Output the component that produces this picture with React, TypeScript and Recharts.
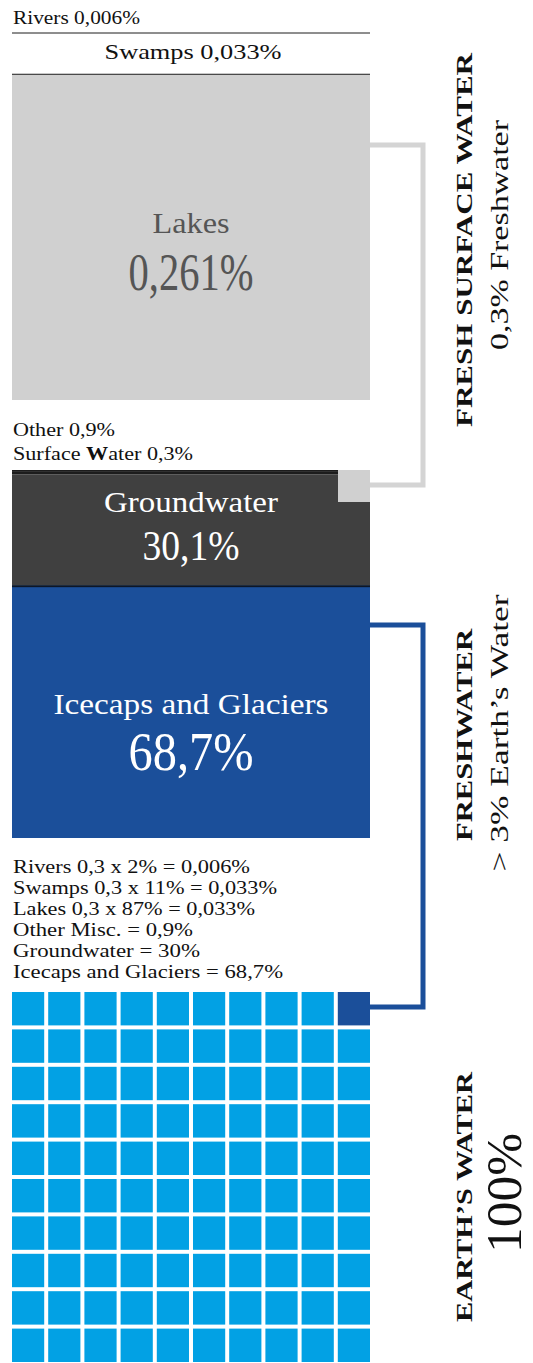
import React from 'react';
import { BarChart, Bar, XAxis, YAxis, ScatterChart, Scatter } from 'recharts';

// surface water, % of freshwater (stacked bottom -> top)
const surfaceNames = ['Lakes', 'Swamps', 'Rivers'];
const surfaceValues = [0.261, 0.033, 0.006];

// freshwater, % (stacked bottom -> top)
const freshNames = ['Icecaps and Glaciers', 'Groundwater', 'Other', 'Surface Water'];
const freshValues = [68.7, 30.1, 0.9, 0.3];

// earth's water waffle, units out of 100
const waffleNames = ["Earth's water", 'Freshwater'];
const waffleUnits = [99, 1];

const breakdownLines = [
  'Rivers 0,3 x 2% = 0,006%',
  'Swamps 0,3 x 11% = 0,033%',
  'Lakes 0,3 x 87% = 0,033%',
  'Other Misc. = 0,9%',
  'Groundwater = 30%',
  'Icecaps and Glaciers = 68,7%',
];

const sideTitles = ['FRESH SURFACE WATER', 'FRESHWATER', 'EARTH\u2019S WATER'];
const sideSubtitles = ['0,3% Freshwater', '> 3% Earth\u2019s Water', '100%'];

const FONT = '"Liberation Serif", "Times New Roman", serif';
const LINE = '#1c1c1c';
const LAKE_GRAY = '#d0d0d0';
const CONNECT_GRAY = '#d4d4d4';
const GROUND = '#404040';
const ICE = '#1b4f9a';
const WAFFLE_BLUE = '#02a1e4';

const fmt = (v: number) => String(v).replace('.', ',') + '%';

const surfaceRow: Record<string, any> = { name: 'Surface water' };
surfaceNames.forEach((n, i) => (surfaceRow[n] = surfaceValues[i]));
const freshRow: Record<string, any> = { name: 'Freshwater' };
freshNames.forEach((n, i) => (freshRow[n] = freshValues[i]));

// expand waffle units into cells, filled bottom-left to top-right
const waffleCells: { x: number; y: number }[][] = waffleNames.map(() => []);
let idx = 0;
waffleUnits.forEach((u, g) => {
  for (let k = 0; k < u; k++, idx++) {
    waffleCells[g].push({ x: (idx % 10) + 0.5, y: Math.floor(idx / 10) + 0.5 });
  }
});
const waffleColors = [WAFFLE_BLUE, ICE];

type TxtProps = {
  x: number;
  y: number;
  size: number;
  w?: number;
  anchor?: 'start' | 'middle' | 'end';
  fill?: string;
  bold?: boolean;
  children: React.ReactNode;
};
const Txt = ({ x, y, size, w, anchor = 'start', fill = '#111', bold, children }: TxtProps) => (
  <text
    x={x}
    y={y}
    fontSize={size}
    fontFamily={FONT}
    fontWeight={bold ? 700 : 400}
    fill={fill}
    textAnchor={anchor}
    textLength={w}
    lengthAdjust={w ? 'spacingAndGlyphs' : undefined}
  >
    {children}
  </text>
);

const surfaceShape = (name: string) => (p: any) => {
  const { x, y, width, height } = p;
  const cx = x + width / 2;
  const v = surfaceRow[name];
  if (name === 'Lakes') {
    const cy = y + height / 2;
    return (
      <g>
        <rect x={x} y={y} width={width} height={height} fill={LAKE_GRAY} />
        <rect x={x} y={y - 1} width={width} height={2} fill={LINE} />
        <Txt x={cx} y={cy - 4} size={29} w={77} anchor="middle" fill="#555">{name}</Txt>
        <Txt x={cx} y={cy + 53} size={53} w={125} anchor="middle" fill="#555">{fmt(v)}</Txt>
      </g>
    );
  }
  if (name === 'Swamps') {
    return (
      <g>
        <rect x={x} y={y} width={width} height={height} fill="#fff" />
        <rect x={x} y={y - 1} width={width} height={2} fill={LINE} />
        <Txt x={cx + 2} y={y + 26} size={22} w={177} anchor="middle">{name} {fmt(v)}</Txt>
      </g>
    );
  }
  return (
    <g>
      <rect x={x} y={y} width={width} height={height} fill="#fff" />
      <Txt x={x + 1} y={y - 1} size={18} w={127}>{name} {fmt(v)}</Txt>
    </g>
  );
};

const freshShape = (name: string) => (p: any) => {
  const { x, y, width, height } = p;
  const cx = x + width / 2;
  const cy = y + height / 2;
  const v = freshRow[name];
  if (name === 'Icecaps and Glaciers') {
    return (
      <g>
        <rect x={x} y={y} width={width} height={height} fill={ICE} />
        <rect x={x} y={y} width={width} height={2} fill="#0d1626" />
        <Txt x={cx} y={cy + 2} size={30} w={275} anchor="middle" fill="#fff">{name}</Txt>
        <Txt x={cx} y={cy + 58} size={55} w={125} anchor="middle" fill="#fff">{fmt(v)}</Txt>
      </g>
    );
  }
  if (name === 'Groundwater') {
    return (
      <g>
        <rect x={x} y={y} width={width} height={height} fill={GROUND} />
        <Txt x={cx} y={cy - 18} size={29} w={174} anchor="middle" fill="#fff">{name}</Txt>
        <Txt x={cx} y={cy + 30} size={43} w={97} anchor="middle" fill="#fff">{fmt(v)}</Txt>
      </g>
    );
  }
  if (name === 'Other') {
    return (
      <g>
        <rect x={x} y={y} width={width} height={height} fill={LINE} />
        <Txt x={x + 1} y={y - 35} size={18} w={102}>{name} {fmt(v)}</Txt>
      </g>
    );
  }
  // surface water: thin top band plus the grey square carried over from above
  return (
    <g>
      <rect x={x} y={y} width={width} height={height} fill={LINE} />
      <rect x={x + width - 32} y={y} width={32} height={32} fill={LAKE_GRAY} />
      <text x={x + 1} y={y - 10} fontSize={18} fontFamily={FONT} fill="#111" textLength={180} lengthAdjust="spacingAndGlyphs">
        Surface <tspan fontWeight={700}>W</tspan>ater {fmt(v)}
      </text>
    </g>
  );
};

const WAFFLE_W = 362;
const WAFFLE_H = 374;
const waffleShape = (color: string) => (p: any) => {
  const w = WAFFLE_W / 10 - 4;
  const h = WAFFLE_H / 10 - 4;
  return <rect x={p.cx - w / 2} y={p.cy - h / 2} width={w} height={h} fill={color} />;
};

const titleX = [472, 472, 472];
const titleY = [240, 735, 1197];
const titleW = [374, 212, 250];
const subX = [508, 508, 521];
const subY = [235, 733, 1193];
const subW = [230, 277, 120];
const subSize = [25, 25, 50];

export default function App() {
  return (
    <div style={{ position: 'absolute', left: 0, top: 0, width: 533, height: 1363, background: '#fff', overflow: 'hidden' }}>
      <div style={{ position: 'absolute', left: 12, top: 0 }}>
        <BarChart width={358} height={400} data={[surfaceRow]} margin={{ top: 25, right: 0, bottom: 0, left: 0 }} barCategoryGap={0}>
          <XAxis dataKey="name" hide />
          <YAxis type="number" domain={[0, 0.3]} hide />
          {surfaceNames.map((n) => (
            <Bar key={n} dataKey={n} stackId="s" isAnimationActive={false} shape={surfaceShape(n)} />
          ))}
        </BarChart>
      </div>

      <div style={{ position: 'absolute', left: 12, top: 410 }}>
        <BarChart width={358} height={428} data={[freshRow]} margin={{ top: 60, right: 0, bottom: 0, left: 0 }} barCategoryGap={0}>
          <XAxis dataKey="name" hide />
          <YAxis type="number" domain={[0, 100]} hide />
          {freshNames.map((n) => (
            <Bar key={n} dataKey={n} stackId="f" isAnimationActive={false} shape={freshShape(n)} />
          ))}
        </BarChart>
      </div>

      <div style={{ position: 'absolute', left: 10, top: 990 }}>
        <ScatterChart width={WAFFLE_W} height={WAFFLE_H} margin={{ top: 0, right: 0, bottom: 0, left: 0 }}>
          <XAxis type="number" dataKey="x" domain={[0, 10]} hide />
          <YAxis type="number" dataKey="y" domain={[0, 10]} hide />
          {waffleNames.map((n, g) => (
            <Scatter key={n} name={n} data={waffleCells[g]} isAnimationActive={false} shape={waffleShape(waffleColors[g])} />
          ))}
        </ScatterChart>
      </div>

      <svg width={533} height={1363} style={{ position: 'absolute', left: 0, top: 0, pointerEvents: 'none' }}>
        <path d="M370,145 H423 V485 H370" fill="none" stroke={CONNECT_GRAY} strokeWidth={5} />
        <path d="M370,625 H423 V1007 H370" fill="none" stroke={ICE} strokeWidth={5} />

        {breakdownLines.map((l, i) => (
          <Txt key={l} x={13} y={873 + i * 21} size={18} w={[237, 264, 242, 180, 187, 270][i]}>{l}</Txt>
        ))}

        {sideTitles.map((t, i) => (
          <g key={t} transform={`translate(${titleX[i]},${titleY[i]}) rotate(-90)`}>
            <Txt x={0} y={0} size={24} w={titleW[i]} anchor="middle" bold>{t}</Txt>
          </g>
        ))}
        {sideSubtitles.map((t, i) => (
          <g key={t} transform={`translate(${subX[i]},${subY[i]}) rotate(-90)`}>
            <Txt x={0} y={0} size={subSize[i]} w={subW[i]} anchor="middle">{t}</Txt>
          </g>
        ))}
      </svg>
    </div>
  );
}
